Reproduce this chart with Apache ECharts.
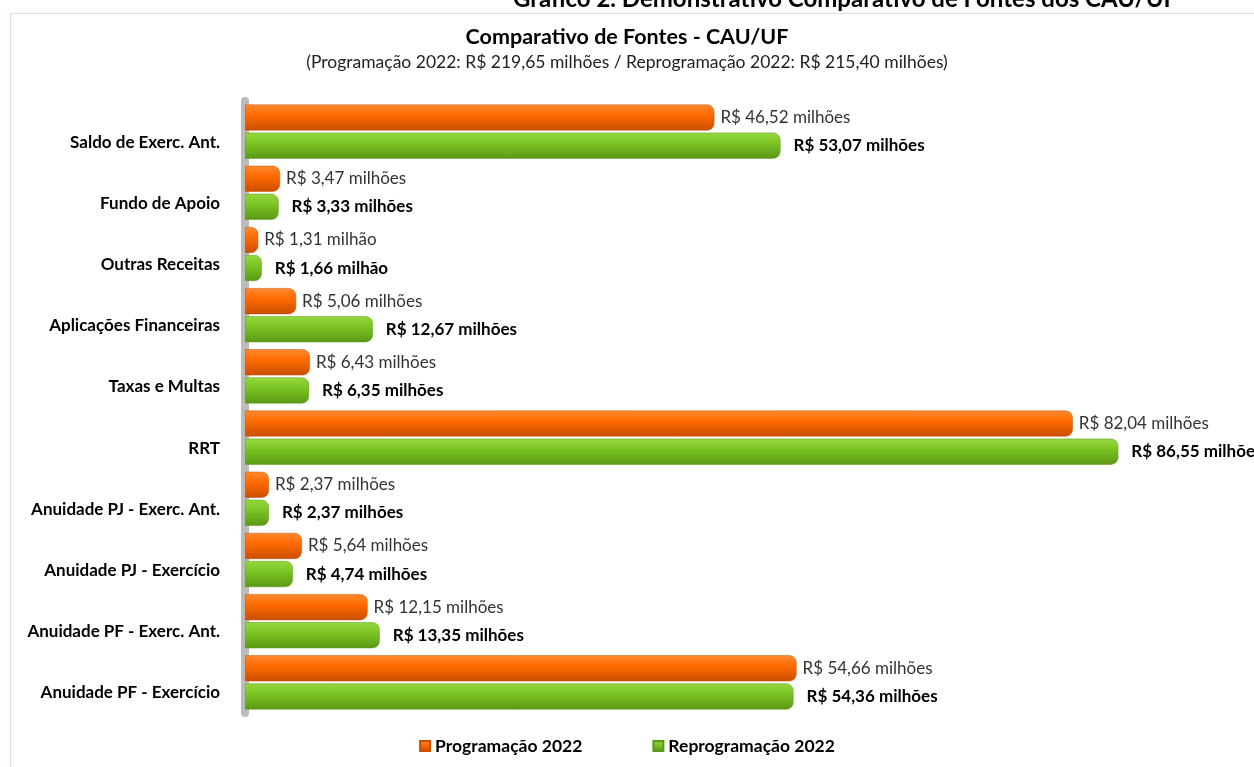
<!DOCTYPE html>
<html>
<head>
<meta charset="utf-8">
<script src="https://cdn.jsdelivr.net/npm/echarts@6/dist/echarts.min.js"></script>
<style>
  html, body { margin: 0; padding: 0; background: #fff; }
  #chart { width: 1254px; height: 767px; }
</style>
</head>
<body>
<div id="chart"></div>
<script>
  // categorias (de cima para baixo)
  var categorias = ['Saldo de Exerc. Ant.', 'Fundo de Apoio', 'Outras Receitas', 'Aplicações Financeiras',
    'Taxas e Multas', 'RRT', 'Anuidade PJ - Exerc. Ant.', 'Anuidade PJ - Exercício',
    'Anuidade PF - Exerc. Ant.', 'Anuidade PF - Exercício'];
  // valores em milhões de R$
  var programacao = [46.52, 3.47, 1.31, 5.06, 6.43, 82.04, 2.37, 5.64, 12.15, 54.66];
  var reprogramacao = [53.07, 3.33, 1.66, 12.67, 6.35, 86.55, 2.37, 4.74, 13.35, 54.36];
  var nomes = ['Programação 2022', 'Reprogramação 2022'];

  var fonte = 'Lato, "Open Sans", sans-serif';

  function rotulo(p) {
    var v = p.value.toFixed(2).replace('.', ',');
    return 'R$ ' + v + (p.value < 2 ? ' milhão' : ' milhões');
  }

  function grad(c1, c2, c3) {
    return new echarts.graphic.LinearGradient(0, 0, 0, 1, [
      { offset: 0, color: c1 },
      { offset: 0.4, color: c2 },
      { offset: 1, color: c3 }
    ]);
  }

  var myChart = echarts.init(document.getElementById('chart'));

  var option = {
    backgroundColor: '#fff',
    animation: false,
    textStyle: { fontFamily: fonte },
    graphic: [
      { // moldura do gráfico
        type: 'rect', left: 8, top: 11, silent: true,
        shape: { width: 1300, height: 800 },
        style: { fill: 'none', stroke: '#f0d4dc', lineWidth: 1 }
      },
      { // título do documento (cortado no topo)
        type: 'text', left: 513, top: -13, silent: true,
        style: { text: 'Gráfico 2. Demonstrativo Comparativo de Fontes dos CAU/UF',
          font: 'bold 24px ' + fonte, fill: '#000' }
      }
    ],
    title: {
      text: 'Comparativo de Fontes - CAU/UF',
      subtext: '(Programação 2022: R$ 219,65 milhões / Reprogramação 2022: R$ 215,40 milhões)',
      left: 'center',
      top: 21,
      itemGap: 5,
      textStyle: { fontFamily: fonte, fontSize: 21.5, fontWeight: 'bold', color: '#000' },
      subtextStyle: { fontFamily: fonte, fontSize: 17.5, color: '#222' }
    },
    legend: {
      bottom: 7,
      left: 'center',
      itemWidth: 10,
      itemHeight: 10,
      itemGap: 70,
      icon: 'rect',
      textStyle: { fontFamily: fonte, fontSize: 17.5, fontWeight: 'bold', color: '#000' },
      data: nomes
    },
    grid: {
      left: 245,
      top: 101,
      width: 1018,
      height: 612
    },
    xAxis: {
      type: 'value',
      min: 0,
      max: 100,
      show: false
    },
    yAxis: {
      type: 'category',
      inverse: true,
      data: categorias,
      offset: 4,
      axisTick: { show: false },
      axisLine: {
        show: true,
        lineStyle: { color: '#bcbcbc', width: 8 }
      },
      axisLabel: {
        margin: 21,
        fontFamily: fonte,
        fontSize: 17,
        fontWeight: 'bold',
        color: '#000',
        verticalAlign: 'top',
        padding: [2, 0, 0, 0]
      }
    },
    series: [
      {
        name: nomes[0],
        type: 'bar',
        data: programacao,
        barWidth: 26,
        barGap: '8%',
        itemStyle: {
          color: grad('#ff8a33', '#ff6a00', '#c94f00'),
          borderRadius: [0, 7, 7, 0],
          borderColor: '#c85000',
          borderWidth: 0.5
        },
        label: {
          show: true,
          position: 'right',
          distance: 6,
          formatter: rotulo,
          fontFamily: fonte,
          fontSize: 17,
          color: '#333'
        }
      },
      {
        name: nomes[1],
        type: 'bar',
        data: reprogramacao,
        barWidth: 26,
        itemStyle: {
          color: grad('#95d83f', '#7cc423', '#5a9816'),
          borderRadius: [0, 7, 7, 0],
          borderColor: '#5a9816',
          borderWidth: 0.5
        },
        label: {
          show: true,
          position: 'right',
          distance: 13,
          formatter: rotulo,
          fontFamily: fonte,
          fontSize: 17,
          fontWeight: 'bold',
          color: '#000'
        }
      }
    ]
  };

  myChart.setOption(option);
  window.addEventListener('resize', function () { myChart.resize() });
</script>
</body>
</html>
